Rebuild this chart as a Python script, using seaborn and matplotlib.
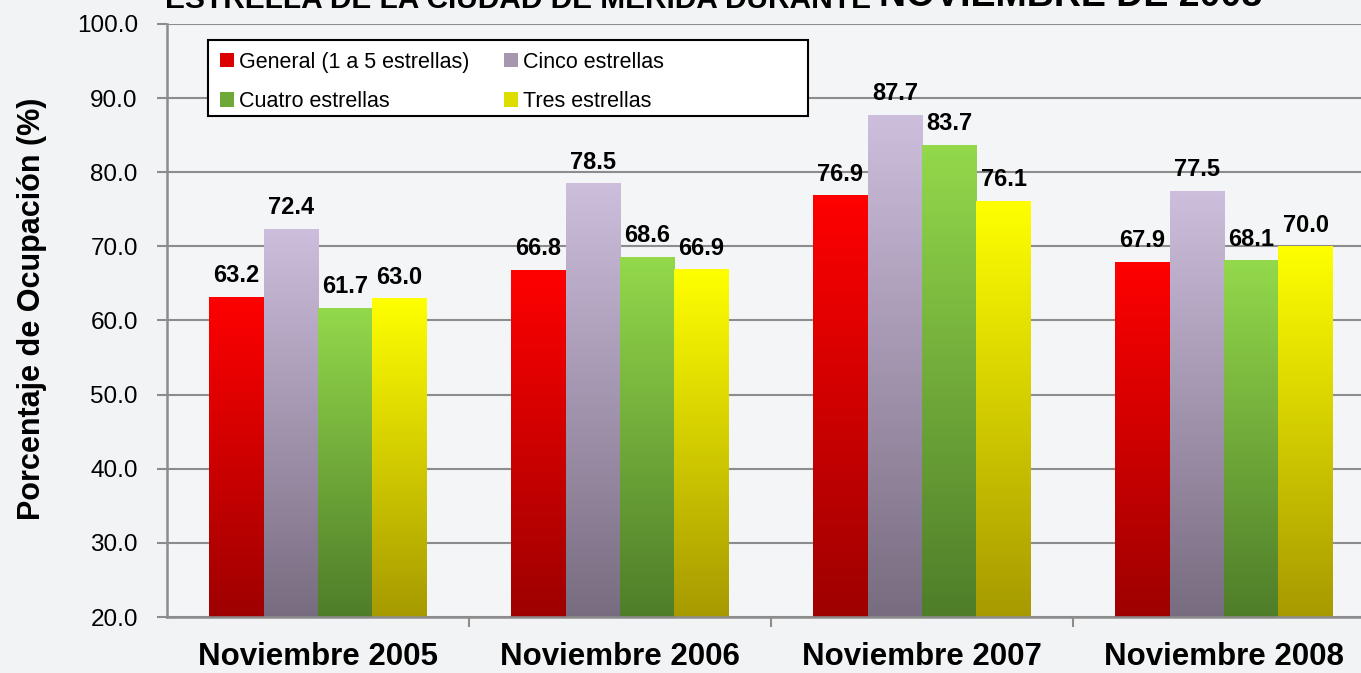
import numpy as np
import pandas as pd
import matplotlib.pyplot as plt
import seaborn as sns
from matplotlib.colors import LinearSegmentedColormap
from matplotlib.patches import Patch, Rectangle

periodos = ['Noviembre 2005', 'Noviembre 2006', 'Noviembre 2007', 'Noviembre 2008']
categorias = ['General (1 a 5 estrellas)', 'Cinco estrellas', 'Cuatro estrellas', 'Tres estrellas']
general = [63.2, 66.8, 76.9, 67.9]
cinco = [72.4, 78.5, 87.7, 77.5]
cuatro = [61.7, 68.6, 83.7, 68.1]
tres = [63.0, 66.9, 76.1, 70.0]

# colores (arriba, abajo) de cada degradado
col_top = ['#ff0000', '#cdbedd', '#93d94b', '#ffff00']
col_bot = ['#9e0000', '#786c80', '#4f7d29', '#a69a00']
col_leg = ['#dd0000', '#a696b0', '#6ea838', '#dddd00']

df = pd.DataFrame({
    'Periodo': periodos * 4,
    'Categoria': [c for c in categorias for _ in periodos],
    'Ocupacion': general + cinco + cuatro + tres,
})

sns.set_style('white')
plt.rcParams['font.family'] = ['Liberation Sans', 'DejaVu Sans']
plt.rcParams['text.color'] = 'black'
plt.rcParams['axes.labelcolor'] = 'black'
plt.rcParams['xtick.labelcolor'] = 'black'
plt.rcParams['ytick.labelcolor'] = 'black'

fig = plt.figure(figsize=(13.61, 6.73), dpi=100, facecolor='#f2f3f5')
ax = fig.add_axes([167 / 1361, 56 / 673, 1208 / 1361, 593 / 673])
ax.set_facecolor('#f4f5f7')

sns.barplot(data=df, x='Periodo', y='Ocupacion', hue='Categoria', order=periodos,
            hue_order=categorias, width=0.72, gap=0, ax=ax, legend=False,
            edgecolor='none', linewidth=0)

ax.set_ylim(20, 100)
ax.set_xlim(-0.5, 3.5)

# degradado vertical dentro de cada barra
for i, cont in enumerate(ax.containers):
    cmap = LinearSegmentedColormap.from_list('g%d' % i, [col_bot[i], col_top[i]])
    for bar in cont:
        x0, w, h = bar.get_x(), bar.get_width(), bar.get_height()
        grad = np.linspace(0, 1, 256).reshape(-1, 1)
        im = ax.imshow(grad, cmap=cmap, origin='lower', aspect='auto',
                       extent=[x0, x0 + w, 20, h], zorder=2)
        im.set_clip_path(bar)
        bar.set_facecolor('none')
    ax.bar_label(cont, fmt='%.1f', padding=7, fontsize=17, fontweight='bold',
                 color='black', zorder=5)

ax.set_xlim(-0.5, 3.5)
ax.set_ylim(20, 100)

ax.set_yticks(np.arange(20, 101, 10))
ax.set_yticklabels(['%.1f' % v for v in np.arange(20, 101, 10)], fontsize=17.5)
ax.yaxis.grid(True, color='#8c8c8c', linewidth=1.5)
ax.set_axisbelow(True)

ax.set_xticks([0, 1, 2, 3])
ax.set_xticklabels(periodos, fontsize=22.5, fontweight='bold')
ax.set_xticks([0.5, 1.5, 2.5], minor=True)
ax.tick_params(axis='x', which='major', length=0, pad=18)
ax.tick_params(axis='x', which='minor', length=7, width=1.5, color='#8c8c8c', direction='out', bottom=True)
ax.tick_params(axis='y', length=7, width=1.5, color='#8c8c8c', direction='out', left=True, pad=14)

for s in ['top', 'right']:
    ax.spines[s].set_visible(False)
for s in ['left', 'bottom']:
    ax.spines[s].set_color('#8c8c8c')
    ax.spines[s].set_linewidth(1.8)

ax.set_xlabel('')
ax.set_ylabel('Porcentaje de Ocupación (%)', fontsize=22, fontweight='bold')
ax.yaxis.set_label_coords(-0.099, 0.52)

# caja de la leyenda (mas ancha que su contenido)
ax.add_patch(Rectangle((0.0339, 0.845), 0.4967, 0.128, transform=ax.transAxes,
                       facecolor='white', edgecolor='black', linewidth=1.5, zorder=6))

# orden por columnas para que la primera fila sea General / Cinco
orden = [0, 2, 1, 3]
handles = [Patch(facecolor=col_leg[k], edgecolor='none') for k in orden]
etiquetas = [categorias[k] for k in orden]
leg = ax.legend(handles, etiquetas, ncol=2, loc='upper left', bbox_to_anchor=(0.034, 0.973),
                borderaxespad=0, fontsize=15.5, frameon=False, labelcolor='black',
                handlelength=0.65, handleheight=0.65, handletextpad=0.25,
                columnspacing=1.6, labelspacing=0.85, borderpad=0.55)
leg.set_zorder(7)

# titulo cortado en la parte superior
t1 = fig.text(165 / 1361, 665 / 673, 'ESTRELLA DE LA CIUDAD DE MÉRIDA DURANTE ',
              fontsize=21.5, fontweight='bold', va='baseline', ha='left')
ax.annotate('NOVIEMBRE DE 2008', xy=(1, 0), xycoords=t1, xytext=(0, 0),
            textcoords='offset points', fontsize=27, fontweight='bold',
            va='bottom', ha='left', annotation_clip=False)

fig.savefig('out.png', dpi=100, facecolor=fig.get_facecolor())
